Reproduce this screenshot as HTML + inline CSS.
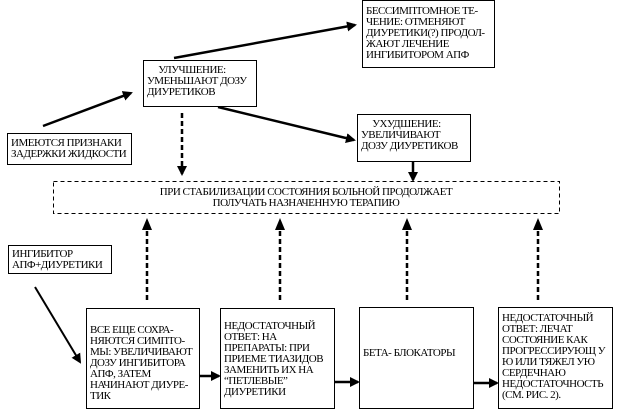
<!DOCTYPE html>
<html><head><meta charset="utf-8"><style>
body{margin:0;width:620px;height:410px;background:#fff;position:relative;overflow:hidden;font-family:"Liberation Serif","DejaVu Serif",serif;font-size:11px;line-height:11px;color:#000}
.b{position:absolute;border:1px solid #000;box-sizing:border-box;padding:3px 3px;background:#fff;letter-spacing:-0.5px;white-space:nowrap}
svg{position:absolute;left:0;top:0}
</style></head><body>
<svg width="620" height="410">
<defs><marker id="s" markerWidth="10" markerHeight="10" refX="8" refY="5" orient="auto" markerUnits="userSpaceOnUse"><path d="M0,0L10,5L0,10z"/></marker></defs>
<g stroke="#000" stroke-width="2.5" fill="none">
<line x1="43" y1="126" x2="131" y2="93" marker-end="url(#s)"/>
<line x1="174" y1="58" x2="355" y2="25" marker-end="url(#s)"/>
<line x1="218" y1="107" x2="354" y2="140" marker-end="url(#s)"/>
<line x1="413" y1="162" x2="413" y2="180" marker-end="url(#s)"/>
<line x1="182" y1="113" x2="182" y2="174" stroke-dasharray="5,3" marker-end="url(#s)"/>
<line x1="35" y1="287" x2="80" y2="362" stroke-width="2" marker-end="url(#s)"/>
<line x1="200" y1="376" x2="219" y2="376" marker-end="url(#s)"/>
<line x1="335" y1="382" x2="358" y2="382" marker-end="url(#s)"/>
<line x1="474" y1="383" x2="497" y2="383" marker-end="url(#s)"/>
</g>
<g stroke="#000" stroke-width="2.5" stroke-dasharray="5,3">
<line x1="147" y1="300" x2="147" y2="228"/>
<line x1="280" y1="300" x2="280" y2="228"/>
<line x1="407" y1="300" x2="407" y2="228"/>
<line x1="538" y1="300" x2="538" y2="228"/>
</g>
<g>
<path d="M142,230L147,218L152,230z"/><path d="M275,230L280,218L285,230z"/><path d="M402,230L407,218L412,230z"/><path d="M533,230L538,218L543,230z"/>
</g>
<rect x="53.5" y="181.5" width="506" height="32" fill="none" stroke="#000" stroke-dasharray="4,3"/>
</svg>
<div class="b" style="left:362px;top:0;width:133px;height:68px;padding-top:5px">БЕССИМПТОМНОЕ ТЕ-<br>ЧЕНИЕ: ОТМЕНЯЮТ<br>ДИУРЕТИКИ(?) ПРОДОЛ-<br>ЖАЮТ ЛЕЧЕНИЕ<br>ИНГИБИТОРОМ АПФ</div>
<div class="b" style="left:143px;top:60px;width:114px;height:47px;padding-top:4px">&nbsp;&nbsp;&nbsp;&nbsp;&nbsp;УЛУЧШЕНИЕ:<br>УМЕНЬШАЮТ ДОЗУ<br>ДИУРЕТИКОВ</div>
<div class="b" style="left:357px;top:114px;width:114px;height:48px;padding-top:4px">&nbsp;&nbsp;&nbsp;&nbsp;&nbsp;УХУДШЕНИЕ:<br>УВЕЛИЧИВАЮТ<br>ДОЗУ ДИУРЕТИКОВ</div>
<div class="b" style="left:7px;top:133px;width:125px;height:32px;padding-top:4px">ИМЕЮТСЯ ПРИЗНАКИ<br>ЗАДЕРЖКИ ЖИДКОСТИ</div>
<div style="position:absolute;left:53px;top:187px;width:506px;text-align:center;letter-spacing:-0.5px">ПРИ СТАБИЛИЗАЦИИ СОСТОЯНИЯ БОЛЬНОЙ ПРОДОЛЖАЕТ<br>ПОЛУЧАТЬ НАЗНАЧЕННУЮ ТЕРАПИЮ</div>
<div class="b" style="left:8px;top:245px;width:104px;height:29px;padding-top:3px">ИНГИБИТОР<br>АПФ+ДИУРЕТИКИ</div>
<div class="b" style="left:86px;top:308px;width:114px;height:101px;padding:16px 3px 0">ВСЕ ЕЩЕ СОХРА-<br>НЯЮТСЯ СИМПТО-<br>МЫ: УВЕЛИЧИВАЮТ<br>ДОЗУ ИНГИБИТОРА<br>АПФ, ЗАТЕМ<br>НАЧИНАЮТ ДИУРЕ-<br>ТИК</div>
<div class="b" style="left:220px;top:308px;width:115px;height:101px;padding:12px 3px 0">НЕДОСТАТОЧНЫЙ<br>ОТВЕТ: НА<br>ПРЕПАРАТЫ: ПРИ<br>ПРИЕМЕ ТИАЗИДОВ<br>ЗАМЕНИТЬ ИХ НА<br>“ПЕТЛЕВЫЕ”<br>ДИУРЕТИКИ</div>
<div class="b" style="left:359px;top:307px;width:115px;height:102px;padding:40px 3px 0">БЕТА- БЛОКАТОРЫ</div>
<div class="b" style="left:498px;top:307px;width:115px;height:102px;padding:5px 3px 0">НЕДОСТАТОЧНЫЙ<br>ОТВЕТ: ЛЕЧАТ<br>СОСТОЯНИЕ КАК<br>ПРОГРЕССИРУЮЩ У<br>Ю ИЛИ ТЯЖЕЛ УЮ<br>СЕРДЕЧНАЮ<br>НЕДОСТАТОЧНОСТЬ<br>(СМ. РИС. 2).</div>
</body></html>
